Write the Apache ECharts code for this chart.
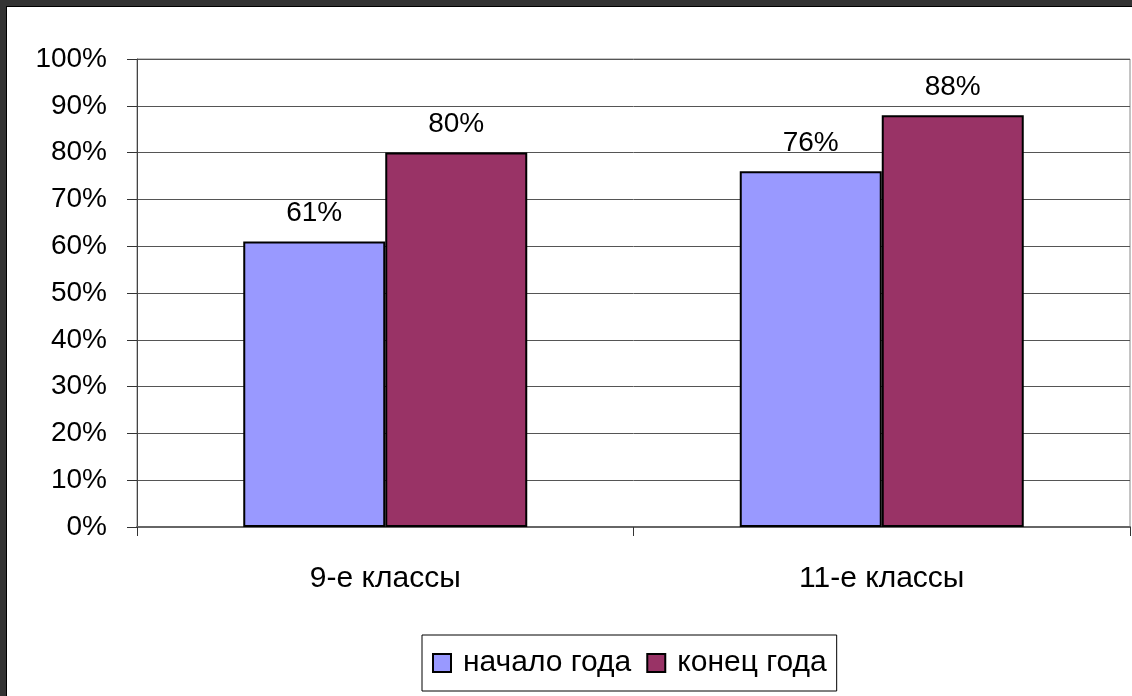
<!DOCTYPE html>
<html>
<head>
<meta charset="utf-8">
<script src="https://cdn.jsdelivr.net/npm/echarts@6/dist/echarts.min.js"></script>
<style>
  html, body { margin: 0; padding: 0; background: #fff; }
  #wrap { position: relative; width: 1132px; height: 696px; overflow: hidden; background: #fff; }
  #chart { position: absolute; left: 0; top: 0; width: 1132px; height: 696px; }
  .fr { position: absolute; background: #333; }
</style>
</head>
<body>
<div id="wrap">
  <div id="chart"></div>
  <div class="fr" style="left:0;top:0;width:1132px;height:6px;"></div>
  <div class="fr" style="left:0;top:0;width:6px;height:696px;"></div>
  <div class="fr" style="left:6px;top:6px;width:1126px;height:1px;background:#000"></div>
  <div class="fr" style="left:6px;top:6px;width:1px;height:690px;background:#000"></div>
</div>
<script>
const categories = ['9-е классы', '11-е классы'];
const seriesNames = ['начало года', 'конец года'];
const startValues = [61, 76];
const endValues = [80, 88];
const yTicks = [0, 10, 20, 30, 40, 50, 60, 70, 80, 90, 100];

const font = 'Liberation Sans, Arial, sans-serif';
const chart = echarts.init(document.getElementById('chart'), null, { renderer: 'canvas' });

const labelCfg = {
  show: true,
  position: 'top',
  distance: 14,
  formatter: '{c}%',
  color: '#000',
  fontFamily: font,
  fontSize: 28
};

chart.setOption({
  animation: false,
  backgroundColor: 'transparent',
  grid: {
    left: 137, top: 59, right: 2, bottom: 169,
    show: true, borderColor: '#888', borderWidth: 1, backgroundColor: 'transparent'
  },
  legend: {
    data: seriesNames,
    bottom: 5,
    left: 422,
    orient: 'horizontal',
    itemWidth: 18,
    itemHeight: 18,
    itemGap: 15,
    icon: 'rect',
    borderColor: '#000',
    borderWidth: 1,
    padding: [13, 10, 13, 10],
    textStyle: { fontFamily: font, fontSize: 30, color: '#000', padding: [0, 0, 0, 7] }
  },
  xAxis: {
    type: 'category',
    data: categories,
    axisLine: { show: true, lineStyle: { color: '#666', width: 2 } },
    axisTick: { show: true, length: 9, lineStyle: { color: '#333' } },
    axisLabel: { margin: 37, color: '#000', fontFamily: font, fontSize: 30 },
    splitLine: { show: false }
  },
  yAxis: {
    type: 'value',
    min: yTicks[0],
    max: yTicks[yTicks.length - 1],
    interval: 10,
    axisLine: { show: true, lineStyle: { color: '#444', width: 1 } },
    axisTick: { show: true, inside: false, length: 10, lineStyle: { color: '#333' } },
    axisLabel: { formatter: '{value}%', margin: 30, color: '#000', fontFamily: font, fontSize: 28 },
    splitLine: { show: true, lineStyle: { color: '#555', width: 1 } }
  },
  series: [
    {
      name: seriesNames[0],
      type: 'bar',
      data: startValues,
      barWidth: 142,
      barGap: '0%',
      itemStyle: { color: '#9999FF', borderColor: '#000', borderWidth: 2 },
      label: labelCfg
    },
    {
      name: seriesNames[1],
      type: 'bar',
      data: endValues,
      barWidth: 142,
      barGap: '0%',
      itemStyle: { color: '#993366', borderColor: '#000', borderWidth: 2 },
      label: labelCfg
    }
  ]
});
</script>
</body>
</html>
